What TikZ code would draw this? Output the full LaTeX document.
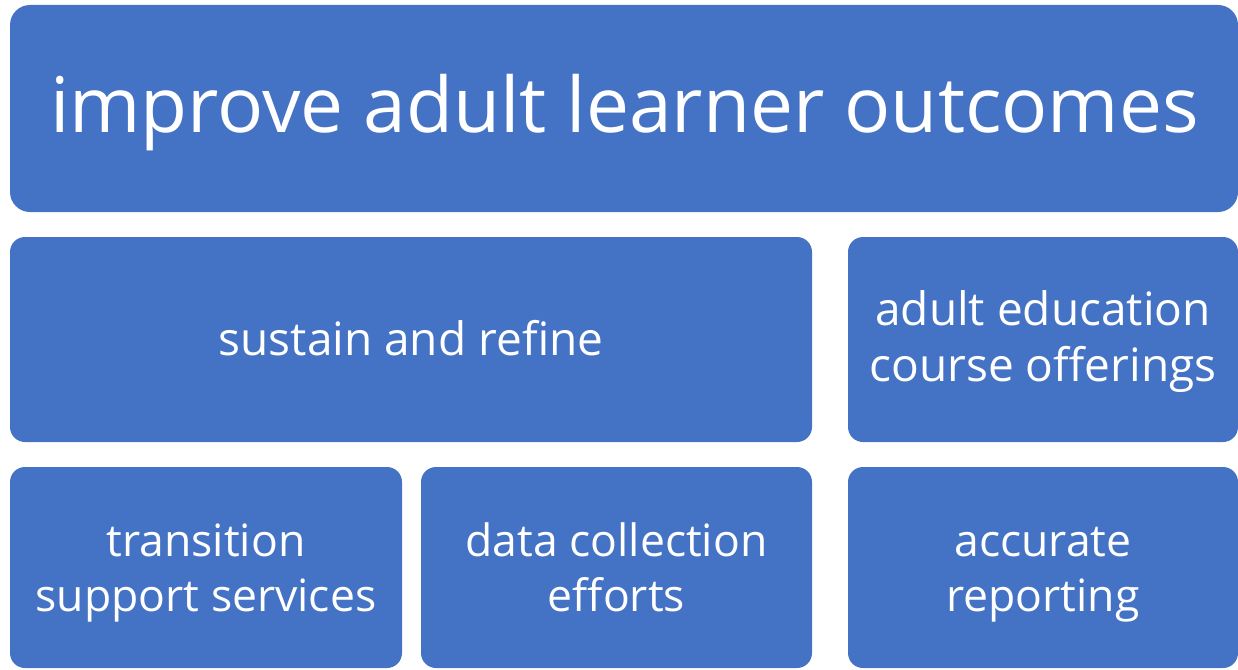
\documentclass[tikz,border=0pt]{standalone}
\usepackage{fontspec}
\setmainfont{Open Sans}
\definecolor{boxblue}{HTML}{4472C4}
\newcommand{\bigstrut}{\rule[-30pt]{0pt}{90pt}}
\newcommand{\midstrut}{\rule[-16pt]{0pt}{56pt}}
\newcommand{\lowstrut}{\rule[-16pt]{0pt}{55pt}}
\tikzset{
  box/.style={fill=boxblue, draw=none, rounded corners=15pt, inner sep=0pt, outer sep=0pt, anchor=north west},
  label/.style={text=white, align=center, inner sep=0pt, outer sep=0pt},
  big/.style={label, font=\fontsize{76.7}{90}\selectfont},
  mid/.style={label, font=\fontsize{46}{56}\selectfont},
  low/.style={label, font=\fontsize{44.5}{55}\selectfont},
}
\begin{document}
\begin{tikzpicture}[x=1pt,y=1pt]
\useasboundingbox (0,0) rectangle (1238,-669);
\node[box, rounded corners=20pt, minimum width=1228pt, minimum height=207pt] (top) at (10,-5) {};
\node[big] (toptext) at (624.5,-117) {\bigstrut improve adult learner outcomes};
\node[box, minimum width=802pt, minimum height=205pt] (sustain) at (10,-237) {};
\node[mid] (sustaintext) at (411,-343) {\midstrut sustain and refine};
\node[box, minimum width=390pt, minimum height=205pt] (adult) at (848,-237) {};
\node[mid] (adulttext) at (1043,-341.5) {\midstrut adult education\\\midstrut course offerings};
\node[box, minimum width=392pt, minimum height=201pt] (trans) at (10,-467) {};
\node[low] (transtext) at (206,-572.5) {\lowstrut transition\\\lowstrut support services};
\node[box, minimum width=391pt, minimum height=201pt] (data) at (421,-467) {};
\node[low] (datatext) at (616.5,-572.5) {\lowstrut data collection\\\lowstrut efforts};
\node[box, minimum width=390pt, minimum height=201pt] (acc) at (848,-467) {};
\node[low] (acctext) at (1043,-572.5) {\lowstrut accurate\\\lowstrut reporting};
\end{tikzpicture}
\end{document}
